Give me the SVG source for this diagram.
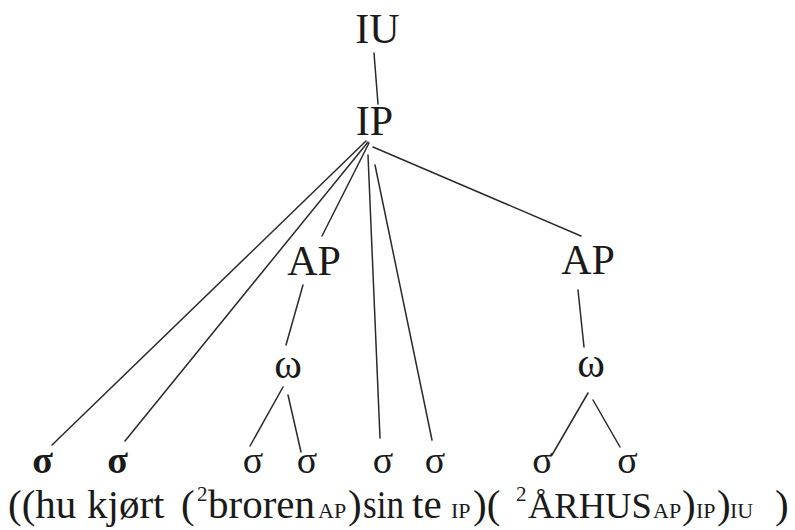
<svg xmlns="http://www.w3.org/2000/svg" width="795" height="530" viewBox="0 0 795 530">
  <style>
    .lbl { font-family: "Liberation Serif", "Times New Roman", serif; font-size: 42px; fill: #1a1a1a; text-anchor: middle; }
    .syl { font-family: "Liberation Serif", "Times New Roman", serif; font-size: 38px; fill: #1a1a1a; text-anchor: middle; }
    .bold { font-weight: bold; }
    .line { font-family: "Liberation Serif", "Times New Roman", serif; font-size: 41px; fill: #1a1a1a; }
    .sub { font-size: 22px; }
    .sup { font-size: 21px; }
    .edges line { stroke: #2a2a2a; stroke-width: 1.5; stroke-linecap: round; }
  </style>
  <rect width="795" height="530" fill="#ffffff"/>

  <!-- tree edges -->
  <g id="edges" class="edges">
    <line x1="374" y1="53" x2="378" y2="104"/>
    <line x1="366" y1="141" x2="52" y2="445"/>
    <line x1="368" y1="142" x2="125" y2="441"/>
    <line x1="369" y1="143" x2="322" y2="236"/>
    <line x1="368" y1="155" x2="380" y2="438"/>
    <line x1="375" y1="165" x2="432" y2="440"/>
    <line x1="373" y1="147" x2="581" y2="236"/>
    <line x1="303" y1="285" x2="286" y2="345"/>
    <line x1="283" y1="387" x2="250" y2="446"/>
    <line x1="288" y1="395" x2="301" y2="452"/>
    <line x1="578" y1="290" x2="584" y2="347"/>
    <line x1="588" y1="393" x2="552" y2="455"/>
    <line x1="593" y1="400" x2="620" y2="447"/>
  </g>

  <!-- prosodic nodes -->
  <g id="node-IU"><text class="lbl" x="377.5" y="43">IU</text></g>
  <g id="node-IP"><text class="lbl" x="374.5" y="135">IP</text></g>
  <g id="node-AP1"><text class="lbl" x="314" y="275">AP</text></g>
  <g id="node-AP2"><text class="lbl" x="588" y="274">AP</text></g>
  <g id="node-w1"><text class="lbl" x="288" y="378">ω</text></g>
  <g id="node-w2"><text class="lbl" x="591" y="377">ω</text></g>

  <!-- syllables -->
  <g id="node-s1"><text class="syl bold" x="42.5" y="473">σ</text></g>
  <g id="node-s2"><text class="syl bold" x="117.5" y="473">σ</text></g>
  <g id="node-s3"><text class="syl" x="253" y="473">σ</text></g>
  <g id="node-s4"><text class="syl" x="307" y="473">σ</text></g>
  <g id="node-s5"><text class="syl" x="383" y="473">σ</text></g>
  <g id="node-s6"><text class="syl" x="435" y="473">σ</text></g>
  <g id="node-s7"><text class="syl" x="542.5" y="473">σ</text></g>
  <g id="node-s8"><text class="syl" x="627.5" y="473">σ</text></g>

  <!-- bracketed transcription -->
  <g id="transcription">
    <text class="line" y="518"><tspan x="8">((hu</tspan><tspan x="87">kjørt</tspan><tspan x="181">(</tspan><tspan class="sup" x="197" y="501">2</tspan><tspan x="208" y="518" textLength="107" lengthAdjust="spacingAndGlyphs">broren</tspan><tspan class="sub" x="318">AP</tspan><tspan x="348">)</tspan><tspan x="363" textLength="41" lengthAdjust="spacingAndGlyphs">sin</tspan><tspan x="412">te</tspan><tspan class="sub" x="451">IP</tspan><tspan x="473">)(</tspan><tspan class="sup" x="516" y="501">2</tspan><tspan x="528" y="518" font-size="36.5">ÅRHUS</tspan><tspan class="sub" x="653">AP</tspan><tspan x="682">)</tspan><tspan class="sub" x="696">IP</tspan><tspan x="717">)</tspan><tspan class="sub" x="730">IU</tspan><tspan x="775">)</tspan></text>
  </g>
</svg>
